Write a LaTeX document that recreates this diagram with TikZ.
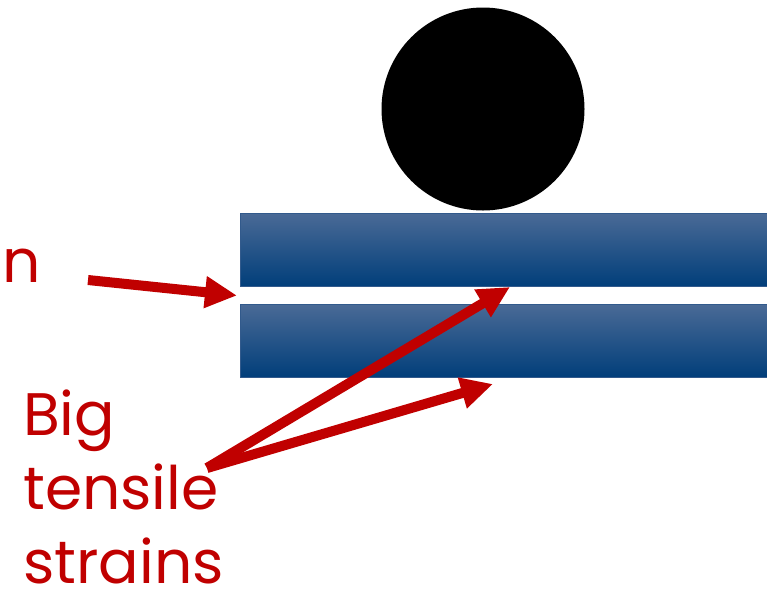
\documentclass[tikz,border=0pt]{standalone}
\usepackage{fontspec}
\setmainfont{Poppins}
\definecolor{strain-red}{RGB}{192,0,0}
\definecolor{bar-top}{RGB}{74,106,150}
\definecolor{bar-mid}{RGB}{10,74,134}
\definecolor{bar-bot}{RGB}{0,62,122}
\definecolor{bar-line}{RGB}{50,90,140}
\usetikzlibrary{arrows.meta, positioning, calc}

\begin{document}
\begin{tikzpicture}[
    x=1pt, y=-1pt,
    bar/.style={rectangle, draw=bar-line, line width=1pt, top color=bar-top, middle color=bar-mid, bottom color=bar-bot, minimum width=540pt, minimum height=73pt, inner sep=0pt, anchor=north west},
    ball/.style={circle, fill=black, minimum size=203pt, inner sep=0pt},
    note/.style={text=strain-red, font=\fontsize{60}{74}\selectfont, align=left, inner sep=0pt},
    arrow/.style={-{Triangle[width=30pt,length=32pt]}, line width=10pt, draw=strain-red}
]
\useasboundingbox (0,0) rectangle (767,595);
\clip (0,0) rectangle (767,595);

\node[ball] (ball) at (483,109) {};
\node[bar] (top-bar) at (240,213) {};
\node[bar, below=17pt of top-bar.south west, anchor=north west] (bottom-bar) {};

\node[note, anchor=base west] (cut-word) at (2,282) {n};
\node[note, anchor=base west] (strains) at (23,583) {Big\\tensile\\strains};

% arrow ends
\coordinate (gap-left) at ($(top-bar.south west)!.5!(bottom-bar.north west) + (-3,0)$);
\coordinate (gap-mid) at ($(top-bar.south west) + (270,0)$);
\coordinate (under-mid) at ($(bottom-bar.south west) + (253,6)$);
\coordinate (from-word) at (88,280);
\coordinate (fork) at (207,468);

\draw[arrow] (from-word) -- (gap-left);
\draw[arrow] (fork) -- (gap-mid);
\draw[arrow] (fork) -- (under-mid);

\end{tikzpicture}
\end{document}
